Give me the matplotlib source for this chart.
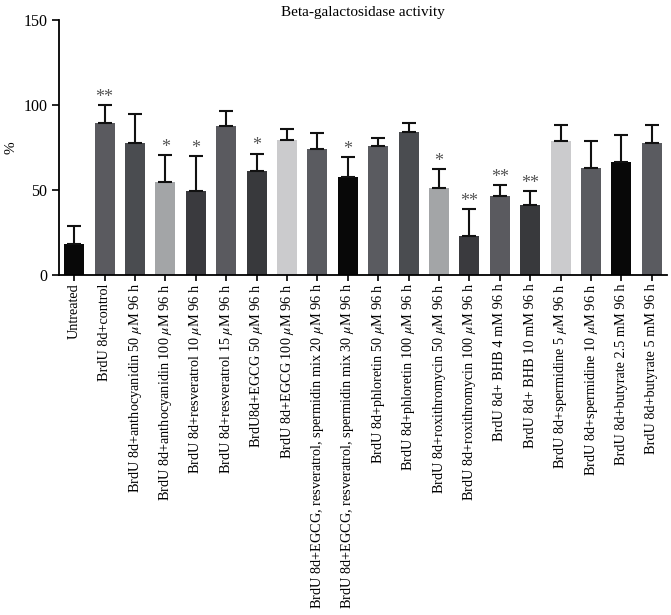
import matplotlib
matplotlib.use("Agg")
import matplotlib.pyplot as plt

# dados
grupos = [
    "Untreated",
    "BrdU 8d+control",
    "BrdU 8d+anthocyanidin 50 $\\mu$M 96 h",
    "BrdU 8d+anthocyanidin 100 $\\mu$M 96 h",
    "BrdU 8d+resveratrol 10 $\\mu$M 96 h",
    "BrdU 8d+resveratrol 15 $\\mu$M 96 h",
    "BrdU8d+EGCG 50 $\\mu$M 96 h",
    "BrdU 8d+EGCG 100 $\\mu$M 96 h",
    "BrdU 8d+EGCG, resveratrol, spermidin mix 20 $\\mu$M 96 h",
    "BrdU 8d+EGCG, resveratrol, spermidin mix 30 $\\mu$M 96 h",
    "BrdU 8d+phloretin 50 $\\mu$M 96 h",
    "BrdU 8d+phloretin 100 $\\mu$M 96 h",
    "BrdU 8d+roxithromycin 50 $\\mu$M 96 h",
    "BrdU 8d+roxithromycin 100 $\\mu$M 96 h",
    "BrdU 8d+ BHB 4 mM 96 h",
    "BrdU 8d+ BHB 10 mM 96 h",
    "BrdU 8d+spermidine 5 $\\mu$M 96 h",
    "BrdU 8d+spermidine 10 $\\mu$M 96 h",
    "BrdU 8d+butyrate 2.5 mM 96 h",
    "BrdU 8d+butyrate 5 mM 96 h",
]
medias = [18, 89.2, 77.8, 54.5, 49.6, 87.8, 61.2, 79.6, 73.9, 57.8,
          75.9, 84.1, 51.4, 22.9, 46.3, 41.4, 78.6, 62.7, 66.3, 77.5]
erros = [10.6, 11.0, 16.9, 15.9, 20.2, 8.5, 10.2, 6.3, 9.6, 11.6,
         4.9, 5.1, 10.8, 16.1, 6.4, 8.2, 9.6, 16.1, 16.1, 10.7]
signif = ["", "**", "", "*", "*", "", "*", "", "", "*",
          "", "", "*", "**", "**", "**", "", "", "", ""]
cores = ["#080808", "#5a5a5f", "#4a4c50", "#a3a5a7", "#3a3a3e", "#5a5a5f",
         "#38393c", "#cbcbcd", "#5a5b60", "#080808", "#5a5b60", "#4a4c50",
         "#a3a5a7", "#3a3a3e", "#5a5a5f", "#38393c", "#cbcbcd", "#5a5b60",
         "#080808", "#5a5b60"]

plt.rcParams["font.family"] = "Liberation Serif"
plt.rcParams["mathtext.fontset"] = "stix"

fig = plt.figure(figsize=(6.71, 6.15), dpi=100)
ax = fig.add_axes([59 / 671, 1 - 275 / 615, 608 / 671, 255 / 615])

x = range(len(grupos))
ax.bar(x, medias, width=0.66, color=cores)
ax.errorbar(x, medias, yerr=[[0] * len(erros), erros], fmt="none",
            ecolor="#111111", elinewidth=1.5, capsize=5, capthick=1.5)

for i in x:
    if signif[i]:
        ax.text(i, medias[i] + erros[i] - 0.5, signif[i], ha="center",
                va="bottom", fontsize=13, color="#555555")

ax.set_xlim(-0.5, len(grupos) - 0.5)
ax.set_ylim(0, 150)
ax.set_yticks([0, 50, 100, 150])
ax.set_xticks(list(x))
ax.set_xticklabels(grupos, rotation=90, fontsize=10.3)
ax.tick_params(axis="y", labelsize=11.5, width=1.2, length=5)
ax.tick_params(axis="x", width=1.2, length=4, pad=2)
ax.set_ylabel("%", fontsize=11)
ax.yaxis.set_label_coords(-0.068, 0.5)
ax.set_title("Beta-galactosidase activity", fontsize=11, pad=3)

for s in ["top", "right"]:
    ax.spines[s].set_visible(False)
for s in ["left", "bottom"]:
    ax.spines[s].set_linewidth(1.3)

plt.savefig("out.png", dpi=100)
